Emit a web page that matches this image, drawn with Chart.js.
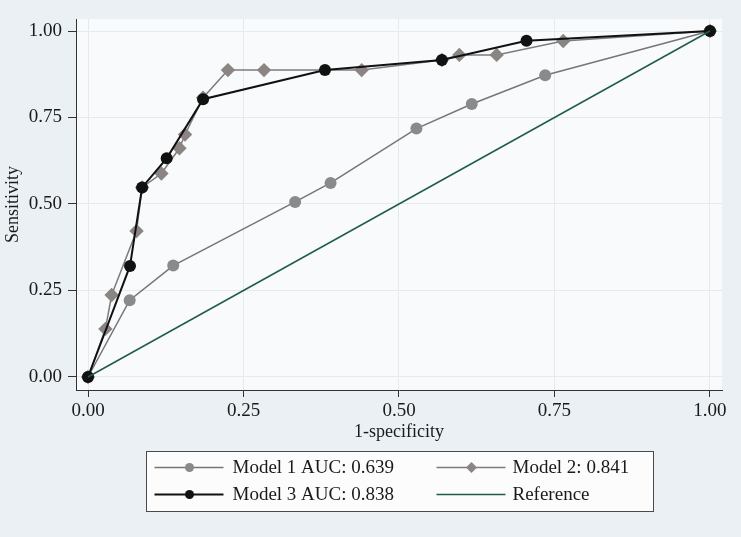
<!DOCTYPE html>
<html>
<head>
<meta charset="utf-8">
<script src="https://cdn.jsdelivr.net/npm/chart.js@4.4.1/dist/chart.umd.min.js"></script>
<style>
    html, body { margin: 0; padding: 0; background: #eaf0f3; }
    #wrap { width: 741px; height: 537px; }
</style>
</head>
<body>
<div id="wrap"><canvas id="roc-chart" width="741" height="537"></canvas></div>
<script>
// ROC points
const model1X = [0, 0.067, 0.137, 0.333, 0.390, 0.528, 0.617, 0.735, 1];
const model1Y = [0, 0.222, 0.322, 0.506, 0.561, 0.718, 0.789, 0.872, 1];

const model2X = [0, 0.028, 0.038, 0.078, 0.087, 0.118, 0.147, 0.156, 0.185, 0.225, 0.283, 0.440, 0.569, 0.597, 0.657, 0.764, 1];
const model2Y = [0, 0.139, 0.237, 0.422, 0.548, 0.588, 0.661, 0.701, 0.807, 0.887, 0.887, 0.887, 0.916, 0.931, 0.931, 0.971, 1];

const model3X = [0, 0.0675, 0.087, 0.1265, 0.185, 0.381, 0.569, 0.705, 1];
const model3Y = [0, 0.321, 0.548, 0.632, 0.803, 0.887, 0.916, 0.972, 1];

const referenceX = [0, 1];
const referenceY = [0, 1];

const seriesLabels = ["Model 1 AUC: 0.639", "Model 2: 0.841", "Model 3 AUC: 0.838", "Reference"];
const tickValues = [0, 0.25, 0.5, 0.75, 1];

const serif = "'Liberation Serif', 'DejaVu Serif', serif";

function toPoints(xs, ys) {
    return xs.map((x, i) => ({ x: x, y: ys[i] }));
}

// plot region background
const backgroundPlugin = {
    id: "background",
    beforeDraw(chart) {
        const { ctx, chartArea } = chart;
        ctx.save();
        ctx.fillStyle = "#eaf0f3";
        ctx.fillRect(0, 0, chart.width, chart.height);
        ctx.fillStyle = "#f9fafb";
        ctx.fillRect(chartArea.left, chartArea.top, chartArea.right - chartArea.left, chartArea.bottom - chartArea.top);
        ctx.restore();
    }
};

// boxed two-column legend under the plot
const boxLegendPlugin = {
    id: "boxLegend",
    afterDraw(chart) {
        const ctx = chart.ctx;
        const area = chart.chartArea;
        const boxW = 507, boxH = 60;
        const boxX = Math.round((area.left + area.right) / 2 - boxW / 2) + 0.5;
        const boxY = 451.5;
        ctx.save();
        ctx.fillStyle = "#fcfcfc";
        ctx.strokeStyle = "#4a4a4a";
        ctx.lineWidth = 1;
        ctx.fillRect(boxX, boxY, boxW, boxH);
        ctx.strokeRect(boxX, boxY, boxW, boxH);

        const colX = [boxX + 8, boxX + 290];
        const rowY = [boxY + 16, boxY + 43];
        chart.data.datasets.forEach((ds, i) => {
            const x0 = colX[i % 2];
            const y0 = rowY[Math.floor(i / 2)];
            const mid = x0 + 35;
            ctx.strokeStyle = ds.borderColor;
            ctx.lineWidth = ds.borderWidth;
            ctx.beginPath();
            ctx.moveTo(x0, y0);
            ctx.lineTo(x0 + 69, y0);
            ctx.stroke();
            if (ds.pointRadius > 0) {
                ctx.fillStyle = ds.pointBackgroundColor;
                ctx.beginPath();
                if (ds.pointStyle === "rectRot") {
                    ctx.moveTo(mid, y0 - 5.5);
                    ctx.lineTo(mid + 5.5, y0);
                    ctx.lineTo(mid, y0 + 5.5);
                    ctx.lineTo(mid - 5.5, y0);
                    ctx.closePath();
                } else {
                    ctx.arc(mid, y0, 4.5, 0, Math.PI * 2);
                }
                ctx.fill();
            }
            ctx.fillStyle = "#1a1a1a";
            ctx.font = "19px " + serif;
            ctx.textBaseline = "middle";
            ctx.textAlign = "left";
            ctx.fillText(ds.label, x0 + (i % 2 ? 76 : 78), y0 + 1);
        });
        ctx.restore();
    }
};

let rocChart;

function createRocChart() {
    const rocCanvas = document.getElementById("roc-chart");
    rocChart = new Chart(rocCanvas.getContext("2d"), {
        type: "scatter",
        data: {
            datasets: [
                {
                    label: seriesLabels[0],
                    data: toPoints(model1X, model1Y),
                    showLine: true,
                    borderColor: "#767676",
                    borderWidth: 1.5,
                    pointStyle: "circle",
                    pointRadius: 6,
                    pointBackgroundColor: "#8a8a8a",
                    pointBorderWidth: 0,
                    order: 3
                },
                {
                    label: seriesLabels[1],
                    data: toPoints(model2X, model2Y),
                    showLine: true,
                    borderColor: "#7c7c7c",
                    borderWidth: 1.5,
                    pointStyle: "rectRot",
                    pointRadius: 7.2,
                    pointBackgroundColor: "#8a8582",
                    pointBorderWidth: 0,
                    order: 2
                },
                {
                    label: seriesLabels[2],
                    data: toPoints(model3X, model3Y),
                    showLine: true,
                    borderColor: "#111111",
                    borderWidth: 2,
                    pointStyle: "circle",
                    pointRadius: 6,
                    pointBackgroundColor: "#111111",
                    pointBorderWidth: 0,
                    order: 1
                },
                {
                    label: seriesLabels[3],
                    data: toPoints(referenceX, referenceY),
                    showLine: true,
                    borderColor: "#1f5c4c",
                    borderWidth: 1.5,
                    pointRadius: 0,
                    order: 0
                }
            ]
        },
        options: {
            responsive: false,
            animation: false,
            layout: {
                padding: { left: 2, top: 19, right: 19, bottom: 94 }
            },
            plugins: {
                legend: { display: false },
                tooltip: { enabled: false }
            },
            scales: {
                x: {
                    type: "linear",
                    min: -0.0193,
                    max: 1.0193,
                    afterBuildTicks: scale => { scale.ticks = tickValues.map(v => ({ value: v })); },
                    afterFit: scale => { scale.height = 53; },
                    border: { color: "#333333", width: 1 },
                    grid: { color: "#e4eaee", tickColor: "#333333", tickLength: 7, lineWidth: 1 },
                    ticks: {
                        color: "#1a1a1a",
                        padding: 3,
                        maxRotation: 0,
                        font: { family: serif, size: 19 },
                        callback: v => v.toFixed(2)
                    },
                    title: {
                        display: true,
                        text: "1-specificity",
                        color: "#1a1a1a",
                        padding: 0,
                        font: { family: serif, size: 18 }
                    }
                },
                y: {
                    type: "linear",
                    min: -0.0376,
                    max: 1.0347,
                    afterBuildTicks: scale => { scale.ticks = tickValues.map(v => ({ value: v })); },
                    afterFit: scale => { scale.width = 74; },
                    border: { color: "#333333", width: 1 },
                    grid: { color: "#e4eaee", tickColor: "#333333", tickLength: 8, lineWidth: 1 },
                    ticks: {
                        color: "#1a1a1a",
                        padding: 6,
                        font: { family: serif, size: 19 },
                        callback: v => v.toFixed(2)
                    },
                    title: {
                        display: true,
                        text: "Sensitivity",
                        color: "#1a1a1a",
                        padding: 0,
                        font: { family: serif, size: 18 }
                    }
                }
            }
        },
        plugins: [backgroundPlugin, boxLegendPlugin]
    });
}

createRocChart();
</script>
</body>
</html>
